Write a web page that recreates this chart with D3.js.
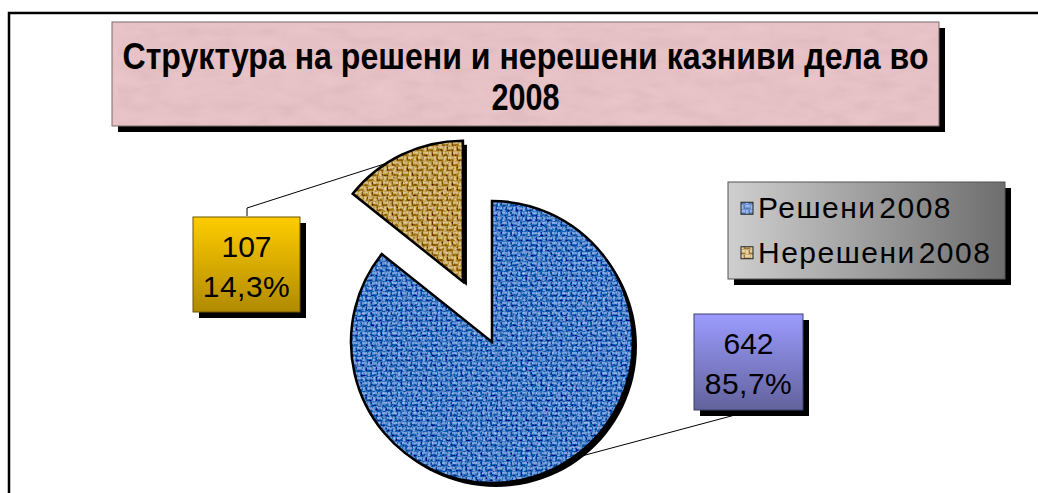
<!DOCTYPE html>
<html><head><meta charset="utf-8">
<script src="https://cdn.jsdelivr.net/npm/d3@7"></script>
<style>body{margin:0;background:#fff}svg{display:block}</style>
</head><body><svg id="c" width="1038" height="493"></svg>
<script>
const titleLines = ["Структура на решени и нерешени казниви дела во", "2008"];
const categories = ["Решени 2008", "Нерешени 2008"];
const values = [642, 107];

const svg = d3.select("#c");
const W = 1038, H = 493;
const FONT = "'Liberation Sans', Arial, Helvetica, sans-serif";
const defs = svg.append("defs");

// textures
function weave(id, base, light, dark) {
  const p = defs.append("pattern").attr("id", id).attr("patternUnits", "userSpaceOnUse")
    .attr("width", 10).attr("height", 10);
  p.append("rect").attr("width", 10).attr("height", 10).attr("fill", base);
  [[0,0,5,2,light],[5,5,5,2,light],[0,3,5,1,dark],[5,8,5,1,dark],
   [6,0,2,4,light],[1,5,2,4,light],[9,0,1,4,dark],[4,5,1,4,dark]].forEach(r =>
    p.append("rect").attr("x", r[0]).attr("y", r[1]).attr("width", r[2]).attr("height", r[3]).attr("fill", r[4]));
}
weave("blueW", "#7193d2", "#98b8ec", "#5a7bba");
weave("tanW", "#cdac76", "#e8d4a4", "#98773f");

const grain = defs.append("filter").attr("id", "grain").attr("x", 0).attr("y", 0).attr("width", 1).attr("height", 1);
grain.append("feTurbulence").attr("type", "fractalNoise").attr("baseFrequency", 0.45).attr("numOctaves", 2).attr("seed", 3).attr("result", "n");
grain.append("feColorMatrix").attr("in", "n").attr("type", "saturate").attr("values", 0).attr("result", "g");
grain.append("feComposite").attr("in", "SourceGraphic").attr("in2", "g").attr("operator", "arithmetic")
  .attr("k1", 0).attr("k2", 1).attr("k3", 0.7).attr("k4", -0.3).attr("result", "m");
grain.append("feComposite").attr("in", "m").attr("in2", "SourceAlpha").attr("operator", "in");

const marble = defs.append("filter").attr("id", "marble").attr("x", 0).attr("y", 0).attr("width", 1).attr("height", 1);
marble.append("feTurbulence").attr("type", "fractalNoise").attr("baseFrequency", "0.03 0.08").attr("numOctaves", 3).attr("seed", 7).attr("result", "n");
marble.append("feColorMatrix").attr("in", "n").attr("type", "saturate").attr("values", 0).attr("result", "g");
marble.append("feComposite").attr("in", "SourceGraphic").attr("in2", "g").attr("operator", "arithmetic")
  .attr("k1", 0).attr("k2", 1).attr("k3", 0.1).attr("k4", -0.05).attr("result", "m");
marble.append("feComposite").attr("in", "m").attr("in2", "SourceAlpha").attr("operator", "in");

function vgrad(id, c1, c2) {
  const g = defs.append("linearGradient").attr("id", id).attr("x1", 0).attr("y1", 0).attr("x2", 0).attr("y2", 1);
  g.append("stop").attr("offset", 0).attr("stop-color", c1);
  g.append("stop").attr("offset", 1).attr("stop-color", c2);
}
vgrad("goldG", "#ffcc00", "#b08a00");
vgrad("purpG", "#9b9bff", "#62629c");
const lg = defs.append("linearGradient").attr("id", "legG").attr("x1", 0).attr("y1", 0).attr("x2", 1).attr("y2", 0);
lg.append("stop").attr("offset", 0).attr("stop-color", "#cfcfcf");
lg.append("stop").attr("offset", 1).attr("stop-color", "#6e6e6e");

// frame
svg.append("path").attr("d", `M9,${H}V13H${W}`).attr("fill", "none").attr("stroke", "#000").attr("stroke-width", 2.5);

// title box
const tb = {x: 112, y: 22, w: 827, h: 104};
svg.append("rect").attr("x", tb.x + 6).attr("y", tb.y + 6).attr("width", tb.w).attr("height", tb.h).attr("fill", "#000");
svg.append("rect").attr("x", tb.x).attr("y", tb.y).attr("width", tb.w).attr("height", tb.h)
  .attr("fill", "#e9c5c9").attr("filter", "url(#marble)");
svg.append("rect").attr("x", tb.x).attr("y", tb.y).attr("width", tb.w).attr("height", tb.h)
  .attr("fill", "none").attr("stroke", "#7a6a6c").attr("stroke-width", 1);
const tt = svg.append("text").attr("font-family", FONT).attr("font-weight", "bold").attr("font-size", 36)
  .attr("text-anchor", "middle").attr("fill", "#000");
titleLines.forEach((s, i) => {
  const t = tt.append("tspan").attr("x", tb.x + tb.w / 2).attr("y", 69 + i * 41).text(s);
  if (i === 0) t.attr("textLength", 806).attr("lengthAdjust", "spacingAndGlyphs");
  else t.attr("textLength", 68).attr("lengthAdjust", "spacingAndGlyphs");
});

// pie
const cx = 492, cy = 342, R = 141, explode = 67;
const pie = d3.pie().sort(null).value(d => d)(values);
const arc = d3.arc().innerRadius(0).outerRadius(R);
const fills = ["url(#blueW)", "url(#tanW)"];
const offsets = [0, explode];
const total = d3.sum(values);
const pctFmt = v => d3.format(".1f")(v * 100).replace(".", ",") + "%";

const pg = svg.append("g").attr("transform", `translate(${cx},${cy})`);
const slices = pg.selectAll("g.s").data(pie).join("g").attr("class", "s")
  .attr("transform", (d, i) => {
    const a = (d.startAngle + d.endAngle) / 2;
    return `translate(${Math.sin(a) * offsets[i]},${-Math.cos(a) * offsets[i]})`;
  });
slices.append("path").attr("d", arc).attr("transform", "translate(4,4)").attr("fill", "#000");
slices.append("path").attr("d", arc).attr("fill", (d, i) => fills[i]).attr("filter", "url(#grain)");
slices.append("path").attr("d", arc).attr("fill", "none").attr("stroke", "#000").attr("stroke-width", 2.5).attr("stroke-linejoin", "miter");

// data labels
const labelBoxes = [
  {x: 694, y: 314, w: 109, h: 96, fill: "url(#purpG)", stroke: "#3c3c6a", ang: 146 * Math.PI / 180, anchor: [750, 411]},
  {x: 193, y: 217, w: 107, h: 95, fill: "url(#goldG)", stroke: "#6a5400", ang: -33 * Math.PI / 180, anchor: [247, 216]}
];
pie.forEach((d, i) => {
  const b = labelBoxes[i];
  const a = (d.startAngle + d.endAngle) / 2;
  const ox = cx + Math.sin(a) * offsets[i], oy = cy - Math.cos(a) * offsets[i];
  const ex = ox + Math.sin(b.ang) * R, ey = oy - Math.cos(b.ang) * R;
  let pts;
  if (i === 1) pts = [[b.anchor[0], b.anchor[1]], [b.anchor[0], b.anchor[1] - 8], [ex, ey]];
  else pts = [[b.anchor[0], b.anchor[1]], [ex, ey]];
  svg.append("path").attr("d", d3.line()(pts)).attr("fill", "none").attr("stroke", "#000").attr("stroke-width", 1);
  svg.append("rect").attr("x", b.x + 6).attr("y", b.y + 6).attr("width", b.w).attr("height", b.h).attr("fill", "#000");
  svg.append("rect").attr("x", b.x).attr("y", b.y).attr("width", b.w).attr("height", b.h)
    .attr("fill", b.fill).attr("stroke", b.stroke).attr("stroke-width", 1);
  const t = svg.append("text").attr("font-family", FONT).attr("font-size", 30).attr("text-anchor", "middle").attr("fill", "#000");
  t.append("tspan").attr("x", b.x + b.w / 2).attr("y", b.y + 40).text(d.data);
  t.append("tspan").attr("x", b.x + b.w / 2).attr("y", b.y + 80).attr("letter-spacing", 0.5).text(pctFmt(d.data / total));
});

// legend
const L = {x: 728, y: 182, w: 277, h: 97};
svg.append("rect").attr("x", L.x + 6).attr("y", L.y + 6).attr("width", L.w).attr("height", L.h).attr("fill", "#000");
svg.append("rect").attr("x", L.x).attr("y", L.y).attr("width", L.w).attr("height", L.h)
  .attr("fill", "url(#legG)").attr("stroke", "#555").attr("stroke-width", 1);
const ly = d3.scaleBand().domain(categories).range([L.y + 4, L.y + L.h - 4]);
categories.forEach((c, i) => {
  const yc = ly(c) + ly.bandwidth() / 2;
  svg.append("rect").attr("x", 741).attr("y", yc - 6).attr("width", 12).attr("height", 12)
    .attr("fill", fills[i]).attr("stroke", "#222").attr("stroke-width", 1);
  svg.append("text").attr("x", 758).attr("y", yc + 10).attr("font-family", FONT).attr("font-size", 30)
    .attr("letter-spacing", 1.5).attr("word-spacing", -7).attr("fill", "#000").text(c);
});
</script></body></html>
